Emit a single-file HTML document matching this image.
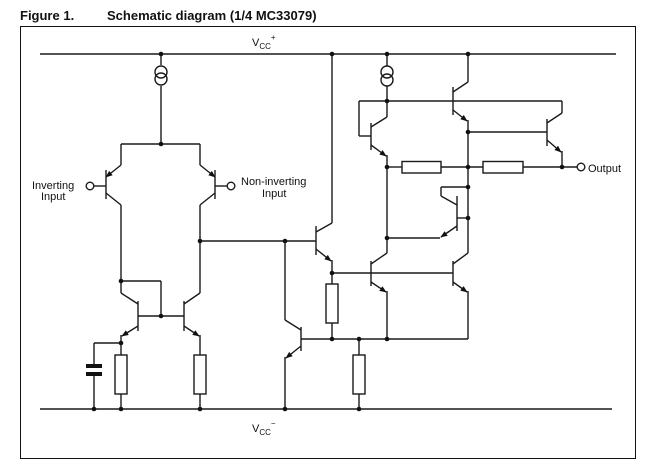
<!DOCTYPE html>
<html><head><meta charset="utf-8"><style>
html,body{margin:0;padding:0;background:#fff;}
svg{display:block;}
text{font-family:"Liberation Sans",Arial,sans-serif;fill:#111;}
</style></head><body>
<svg width="645" height="466" viewBox="0 0 645 466" xmlns="http://www.w3.org/2000/svg">
<defs>
<marker id="a" viewBox="0 0 10 10" refX="9" refY="5" markerWidth="7" markerHeight="7" markerUnits="userSpaceOnUse" orient="auto">
<path d="M0,1 L10,5 L0,9 z" fill="#111"/></marker>
</defs>
<text x="20" y="20" font-size="13" font-weight="bold">Figure 1.</text>
<text x="107" y="20" font-size="13" font-weight="bold">Schematic diagram (1/4 MC33079)</text>
<rect x="20.5" y="26.5" width="615" height="432" fill="none" stroke="#111" stroke-width="1"/>
<g stroke="#1a1a1a" stroke-width="1.4" fill="none">
<!-- rails -->
<line x1="40" y1="54" x2="616" y2="54"/>
<line x1="40" y1="409" x2="612" y2="409"/>
<!-- input current source -->
<line x1="161" y1="54" x2="161" y2="65"/>
<circle cx="161" cy="72" r="6"/><circle cx="161" cy="79" r="6"/>
<line x1="161" y1="86" x2="161" y2="144"/>
<line x1="121" y1="144" x2="200" y2="144"/>
<!-- left PNP -->
<line x1="121" y1="144" x2="121" y2="165"/>
<line x1="121" y1="165" x2="106" y2="177" marker-end="url(#a)"/>
<line x1="106" y1="170" x2="106" y2="199"/>
<line x1="94" y1="186" x2="106" y2="186"/>
<circle cx="90" cy="186" r="3.8"/>
<line x1="106" y1="193" x2="121" y2="205"/>
<line x1="121" y1="205" x2="121" y2="281"/>
<!-- right PNP -->
<line x1="200" y1="144" x2="200" y2="165"/>
<line x1="200" y1="165" x2="215" y2="177" marker-end="url(#a)"/>
<line x1="215" y1="170" x2="215" y2="199"/>
<line x1="215" y1="186" x2="227" y2="186"/>
<circle cx="231" cy="186" r="3.8"/>
<line x1="215" y1="193" x2="200" y2="205"/>
<line x1="200" y1="205" x2="200" y2="241"/>
<line x1="200" y1="241" x2="316" y2="241"/>
<!-- current mirror -->
<line x1="121" y1="281" x2="161" y2="281"/>
<line x1="161" y1="281" x2="161" y2="316"/>
<line x1="138" y1="316" x2="184" y2="316"/>
<line x1="121" y1="281" x2="121" y2="293"/>
<line x1="121" y1="293" x2="138" y2="304"/>
<line x1="138" y1="301" x2="138" y2="331"/>
<line x1="138" y1="326" x2="122" y2="336" marker-end="url(#a)"/>
<line x1="121" y1="335" x2="121" y2="355"/>
<line x1="121" y1="343" x2="94" y2="343"/>
<line x1="94" y1="343" x2="94" y2="366"/>
<line x1="94" y1="374" x2="94" y2="409"/>
<line x1="121" y1="394" x2="121" y2="409"/>
<rect x="115" y="355" width="12" height="39"/>
<line x1="184" y1="301" x2="184" y2="331"/>
<line x1="184" y1="304" x2="200" y2="293"/>
<line x1="200" y1="293" x2="200" y2="241"/>
<line x1="184" y1="326" x2="199" y2="336" marker-end="url(#a)"/>
<line x1="200" y1="335" x2="200" y2="355"/>
<rect x="194" y="355" width="12" height="39"/>
<line x1="200" y1="394" x2="200" y2="409"/>
<!-- second stage -->
<line x1="285" y1="241" x2="285" y2="320"/>
<line x1="285" y1="320" x2="301" y2="330"/>
<line x1="301" y1="327" x2="301" y2="351"/>
<line x1="301" y1="346" x2="286" y2="358" marker-end="url(#a)"/>
<line x1="285" y1="357" x2="285" y2="409"/>
<line x1="301" y1="339" x2="468" y2="339"/>
<!-- emitter follower -->
<line x1="332" y1="54" x2="332" y2="223"/>
<line x1="332" y1="223" x2="316" y2="232"/>
<line x1="316" y1="226" x2="316" y2="255"/>
<line x1="316" y1="249" x2="331" y2="261" marker-end="url(#a)"/>
<line x1="332" y1="260" x2="332" y2="284"/>
<rect x="326" y="284" width="12" height="39"/>
<line x1="332" y1="323" x2="332" y2="339"/>
<line x1="332" y1="273" x2="453" y2="273"/>
<rect x="353" y="355" width="12" height="39"/>
<line x1="359" y1="339" x2="359" y2="355"/>
<line x1="359" y1="394" x2="359" y2="409"/>
<!-- lower NPN 1 -->
<line x1="371" y1="261" x2="371" y2="286"/>
<line x1="371" y1="264" x2="387" y2="253"/>
<line x1="371" y1="282" x2="386" y2="292" marker-end="url(#a)"/>
<line x1="387" y1="291" x2="387" y2="339"/>
<!-- lower NPN 2 -->
<line x1="453" y1="261" x2="453" y2="286"/>
<line x1="453" y1="264" x2="468" y2="253"/>
<line x1="453" y1="282" x2="467" y2="292" marker-end="url(#a)"/>
<line x1="468" y1="291" x2="468" y2="339"/>
<!-- output current source -->
<line x1="387" y1="54" x2="387" y2="66"/>
<circle cx="387" cy="72" r="6"/><circle cx="387" cy="80" r="6"/>
<line x1="387" y1="86" x2="387" y2="117"/>
<line x1="359" y1="101" x2="562" y2="101"/>
<line x1="359" y1="101" x2="359" y2="136"/>
<line x1="359" y1="136" x2="371" y2="136"/>
<line x1="371" y1="123" x2="371" y2="150"/>
<line x1="371" y1="127" x2="387" y2="117"/>
<line x1="371" y1="145" x2="386" y2="156" marker-end="url(#a)"/>
<line x1="387" y1="155" x2="387" y2="253"/>
<!-- top middle NPN -->
<line x1="468" y1="54" x2="468" y2="82"/>
<line x1="468" y1="82" x2="453" y2="92"/>
<line x1="453" y1="87" x2="453" y2="115"/>
<line x1="453" y1="110" x2="467" y2="121" marker-end="url(#a)"/>
<line x1="468" y1="120" x2="468" y2="253"/>
<line x1="468" y1="132" x2="547" y2="132"/>
<!-- output NPN -->
<line x1="562" y1="101" x2="562" y2="113"/>
<line x1="562" y1="113" x2="547" y2="123"/>
<line x1="547" y1="119" x2="547" y2="146"/>
<line x1="547" y1="140" x2="561" y2="152" marker-end="url(#a)"/>
<line x1="562" y1="151" x2="562" y2="167"/>
<!-- output line -->
<line x1="387" y1="167" x2="402" y2="167"/>
<rect x="402" y="161.5" width="39" height="11.5"/>
<line x1="441" y1="167" x2="483" y2="167"/>
<rect x="483" y="161.5" width="40" height="11.5"/>
<line x1="523" y1="167" x2="577" y2="167"/>
<circle cx="581" cy="167" r="3.8"/>
<!-- PNP near output -->
<line x1="387" y1="238" x2="440" y2="238"/>
<line x1="457" y1="226" x2="441" y2="237" marker-end="url(#a)"/>
<line x1="457" y1="196" x2="457" y2="231"/>
<line x1="457" y1="218" x2="468" y2="218"/>
<line x1="457" y1="205" x2="441" y2="196"/>
<line x1="441" y1="196" x2="441" y2="187"/>
<line x1="441" y1="187" x2="468" y2="187"/>
</g>
<!-- capacitor plates -->
<rect x="86" y="364" width="16" height="4" fill="#111"/>
<rect x="86" y="372" width="16" height="4" fill="#111"/>
<g fill="#111">
<circle cx="161" cy="54" r="2.3"/><circle cx="332" cy="54" r="2.3"/><circle cx="387" cy="54" r="2.3"/><circle cx="468" cy="54" r="2.3"/>
<circle cx="161" cy="144" r="2.3"/><circle cx="200" cy="241" r="2.3"/><circle cx="285" cy="241" r="2.3"/>
<circle cx="121" cy="281" r="2.3"/><circle cx="161" cy="316" r="2.3"/><circle cx="121" cy="343" r="2.3"/>
<circle cx="94" cy="409" r="2.3"/><circle cx="121" cy="409" r="2.3"/><circle cx="200" cy="409" r="2.3"/><circle cx="285" cy="409" r="2.3"/><circle cx="359" cy="409" r="2.3"/>
<circle cx="332" cy="273" r="2.3"/><circle cx="332" cy="339" r="2.3"/><circle cx="359" cy="339" r="2.3"/><circle cx="387" cy="339" r="2.3"/>
<circle cx="387" cy="101" r="2.3"/><circle cx="468" cy="132" r="2.3"/><circle cx="387" cy="167" r="2.3"/><circle cx="468" cy="167" r="2.3"/><circle cx="562" cy="167" r="2.3"/>
<circle cx="468" cy="187" r="2.3"/><circle cx="468" cy="218" r="2.3"/><circle cx="387" cy="238" r="2.3"/>
</g>
<g font-size="11">
<text x="252" y="46">V<tspan font-size="8" dy="3">CC</tspan><tspan font-size="8" dy="-9">+</tspan></text>
<text x="252" y="432">V<tspan font-size="8" dy="3">CC</tspan><tspan font-size="8" dy="-9">−</tspan></text>
<text x="32" y="189">Inverting</text>
<text x="41" y="200">Input</text>
<text x="241" y="185">Non-inverting</text>
<text x="262" y="197">Input</text>
<text x="588" y="172">Output</text>
</g>
</svg>
</body></html>
